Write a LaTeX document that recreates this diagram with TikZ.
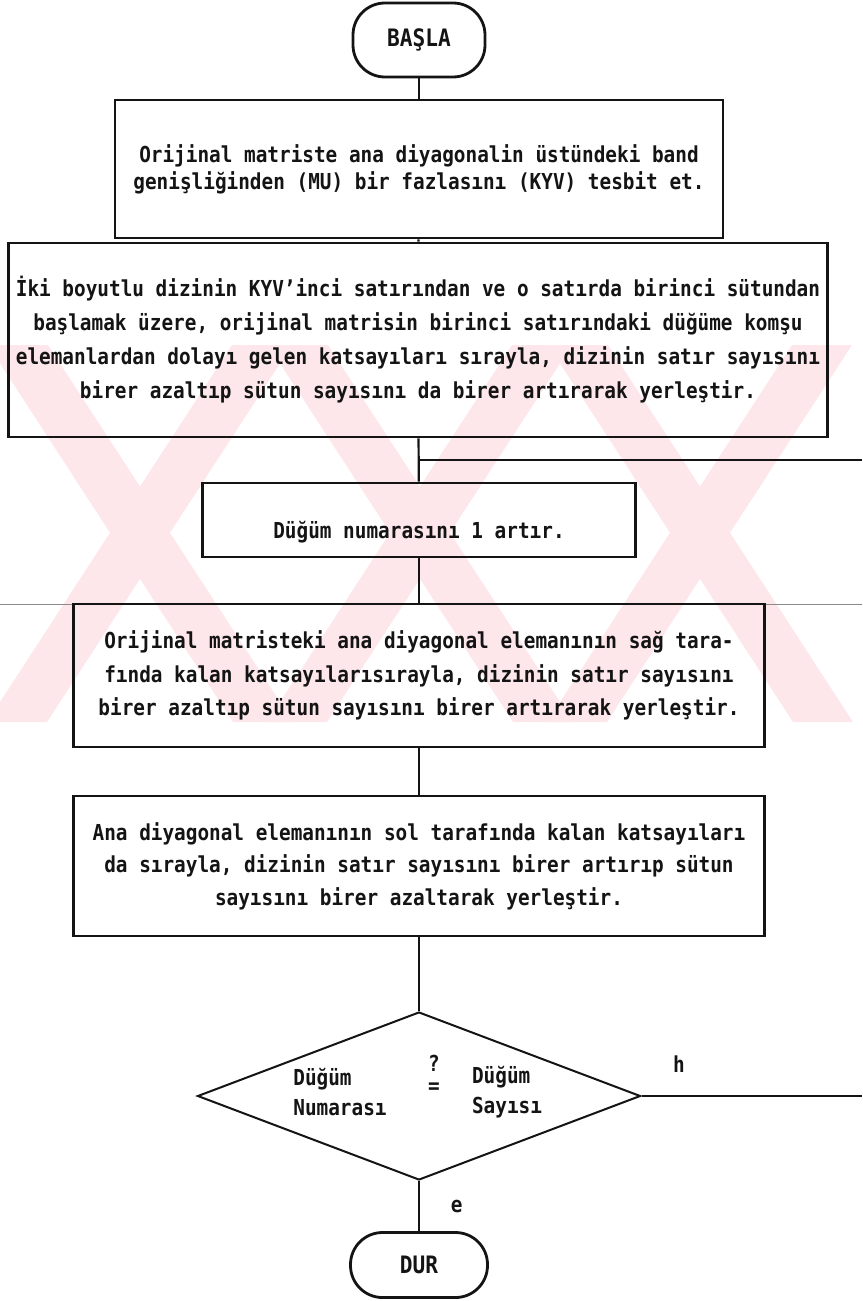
\documentclass[tikz,border=0pt]{standalone}
\usepackage{fontspec}
\setmainfont{DejaVu Sans Mono}[FakeStretch=0.88]
\usetikzlibrary{shapes.geometric}
\definecolor{ink}{HTML}{141414}
\definecolor{wmark}{RGB}{253,231,235}
\definecolor{rule}{HTML}{8A8A8A}

\begin{document}
\begin{tikzpicture}[x=0.5pt,y=-0.5pt,text=ink,
  font=\bfseries\fontsize{11}{17}\selectfont,
  box/.style={draw=ink,line width=1.4pt,align=center,inner sep=0pt},
  term/.style={box,rounded corners=16pt,font=\bfseries\fontsize{12}{14}\selectfont},
  link/.style={draw=ink,line width=1.1pt}]
  \useasboundingbox (0,0) rectangle (862,1301);

  % faint stamp behind the chart
  \begin{scope}
    \clip (0,345) rectangle (862,722);
    \foreach \cx in {140,420,700}{
      \fill[wmark] (\cx-152,345) -- (\cx-92,345) -- (\cx+153,722) -- (\cx+93,722) -- cycle;
      \fill[wmark] (\cx+92,345) -- (\cx+152,345) -- (\cx-93,722) -- (\cx-153,722) -- cycle;
    }
  \end{scope}
  \draw[rule,line width=0.5pt] (0,604) -- (862,604);

  \node[term,minimum width=66pt,minimum height=37pt] (start) at (419,40) {BAŞLA};
  \node[box,minimum width=304pt,minimum height=69pt,
        font=\bfseries\fontsize{11}{13.5}\selectfont] (kyv) at (419,169)
    {Orijinal matriste ana diyagonalin üstündeki band\\
     genişliğinden (MU) bir fazlasını (KYV) tesbit et.};
  \node[box,minimum width=409.5pt,minimum height=97pt] (first) at (418,340)
    {İki boyutlu dizinin KYV'inci satırından ve o satırda birinci sütundan\\
     başlamak üzere, orijinal matrisin birinci satırındaki düğüme komşu\\
     elemanlardan dolayı gelen katsayıları sırayla, dizinin satır sayısını\\
     birer azaltıp sütun sayısını da birer artırarak yerleştir.};
  \node[box,minimum width=216.5pt,minimum height=37pt,text height=20pt,text depth=2pt]
    (incr) at (419,520) {Düğüm numarasını 1 artır.};
  \node[box,minimum width=345.5pt,minimum height=71.5pt,
        font=\bfseries\fontsize{11}{16.75}\selectfont] (right) at (419,675.5)
    {Orijinal matristeki ana diyagonal elemanının sağ tara-\\
     fında kalan katsayılarısırayla, dizinin satır sayısını\\
     birer azaltıp sütun sayısını birer artırarak yerleştir.};
  \node[box,minimum width=345.5pt,minimum height=70pt,
        font=\bfseries\fontsize{11}{16.25}\selectfont] (left) at (419,866)
    {Ana diyagonal elemanının sol tarafında kalan katsayıları\\
     da sırayla, dizinin satır sayısını birer artırıp sütun\\
     sayısını birer azaltarak yerleştir.};
  \node[draw=ink,line width=1pt,diamond,minimum width=221.5pt,minimum height=84pt,
        inner sep=0pt] (test) at (419,1096) {};
  \node[align=left,font=\bfseries\fontsize{11}{15}\selectfont] (lhs)
    at ([xshift=-39.5pt,yshift=2pt]test.center) {Düğüm\\Numarası};
  \node (qm) at ([xshift=7.5pt,yshift=16.5pt]test.center) {?};
  \node (eq) at ([xshift=7.5pt,yshift=4pt]test.center) {=};
  \node[align=left,font=\bfseries\fontsize{11}{15}\selectfont] (rhs)
    at ([xshift=44pt,yshift=2pt]test.center) {Düğüm\\Sayısı};
  \node[term,minimum width=68.5pt,minimum height=32.5pt] (stop) at (419,1265) {DUR};

  \coordinate (jn) at (419,460);
  \coordinate (loop) at (862,460);
  \coordinate (hout) at (862,1096);

  \draw[link] (start) -- (kyv);
  \draw[link] (kyv) -- (first);
  \draw[link] (first) -- (incr);
  \draw[link] (jn) -- (loop);
  \draw[link] (incr) -- (right);
  \draw[link] (right) -- (left);
  \draw[link] (left) -- (test);
  \draw[link] (test.east) -- (hout) node[pos=0.17,above=8pt] {h};
  \draw[link] (test.south) -- (stop) node[midway,right=12pt] {e};
\end{tikzpicture}
\end{document}
